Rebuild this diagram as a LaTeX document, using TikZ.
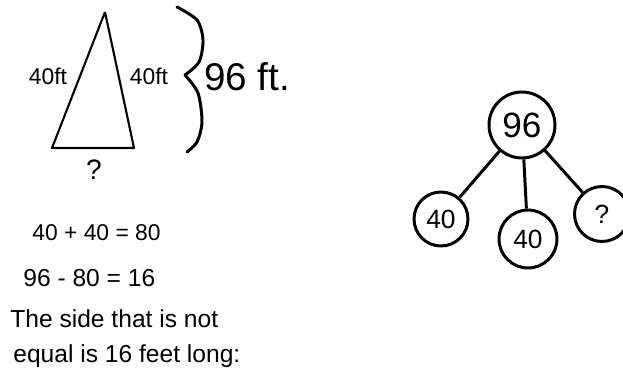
\documentclass[tikz,border=0pt]{standalone}
\usepackage{fontspec}
\setmainfont{Liberation Sans}
\usepackage{tikz}
\usetikzlibrary{positioning,calc}
\tikzset{
	hand/.style={inner sep=0pt,font=\fontsize{14}{17}\selectfont},
	leaf/.style={draw,circle,line width=1.7pt,inner sep=0pt,font=\fontsize{15}{18}\selectfont},
	link/.style={line width=1.7pt},
	side/.style={line width=1.2pt,line join=round}
}
\begin{document}
\begin{tikzpicture}[x=0.02cm,y=-0.02cm]
		\useasboundingbox (0,0) rectangle (623,375);
		% triangle
		\coordinate (top) at (105,12); \coordinate (bl) at (52,148); \coordinate (br) at (134,148);
		\draw[side] (top) -- (bl) -- (br) -- (top);
		\node[hand,font=\fontsize{13}{15}\selectfont] (lside) at (48,76) {40ft};
		\node[hand,font=\fontsize{13}{15}\selectfont] (rside) at (149,76) {40ft};
		\node[hand,font=\fontsize{16}{18}\selectfont] (base) at (94,170) {?};
		\draw[link,line cap=round] plot[smooth] coordinates {(177,7) (197,20) (203,40) (199,62) (185,75)};
		\draw[link,line cap=round] plot[smooth] coordinates {(185,75) (198,93) (202,122) (197,142) (187,152)};
		\node[hand,font=\fontsize{22}{26}\selectfont] (total) at (247,77) {96 ft.};
		% working
		\node[hand,anchor=west,font=\fontsize{13}{15}\selectfont] (eq1) at (32,233) {40 + 40 = 80};
		\node[hand,anchor=west] (eq2) at (23,278) {96 - 80 = 16};
		\node[hand,anchor=west] (note1) at (10,319) {The side that is not};
		\node[hand,anchor=west] (note2) at (13,356) {equal is 16 feet long:};
		% number bond
		\node[leaf,minimum size=1.32cm,font=\fontsize{20}{24}\selectfont] (root) at (522,125) {96};
		\foreach \n/\x/\y/\s/\t in {kA/441/219/1.08/40,kB/528/239/1.16/40,kC/602/214/1.1/?}
			\node[leaf,minimum size=\s cm] (\n) at (\x,\y) {\t};
		\foreach \n in {kA,kB,kC}
			\draw[link] (root) -- (\n);
	\end{tikzpicture}
\end{document}
